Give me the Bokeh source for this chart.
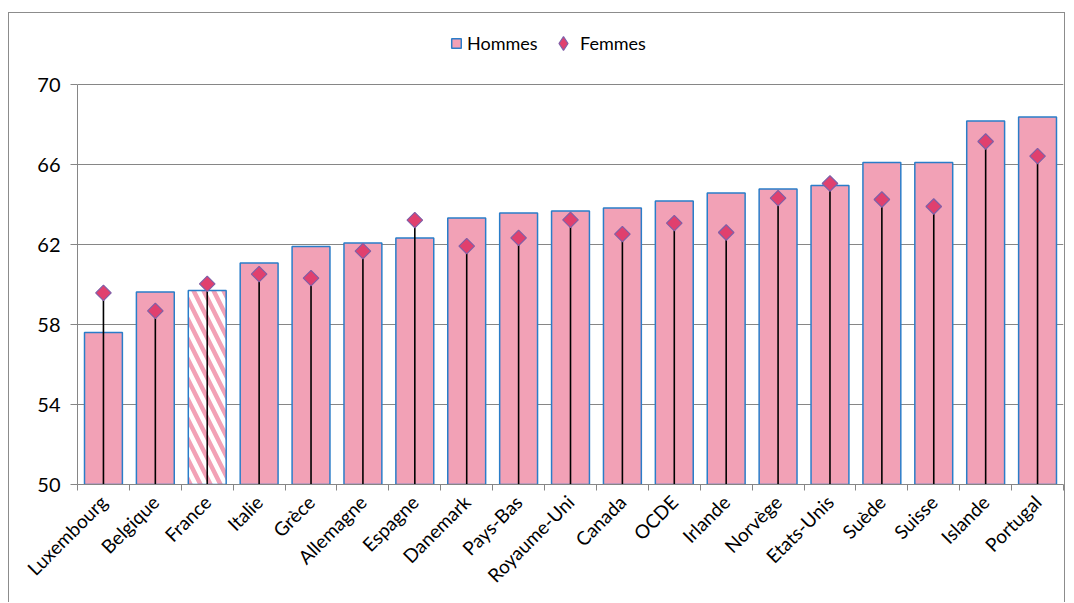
from math import pi
from bokeh.plotting import figure
from bokeh.models import ColumnDataSource, FixedTicker, Legend, LegendItem, Range1d
from bokeh.embed import file_html
from bokeh.resources import INLINE

countries = ["Luxembourg", "Belgique", "France", "Italie", "Grèce", "Allemagne", "Espagne",
             "Danemark", "Pays-Bas", "Royaume-Uni", "Canada", "OCDE", "Irlande", "Norvège",
             "Etats-Unis", "Suède", "Suisse", "Islande", "Portugal"]
hommes = [57.6, 59.62, 59.7, 61.07, 61.9, 62.07, 62.33, 63.33, 63.57, 63.67, 63.83, 64.18,
          64.57, 64.77, 64.95, 66.1, 66.1, 68.18, 68.37]
femmes = [59.58, 58.68, 60.03, 60.52, 60.32, 61.67, 63.22, 61.92, 62.33, 63.23, 62.52, 63.07,
          62.6, 64.32, 65.05, 64.25, 63.9, 67.15, 66.42]
yticks = [50, 54, 58, 62, 66, 70]
highlight = "France"

FONT = "Lato"
GREY = "#868686"
PINK = "#F2A1B6"
BLUE = "#2A7DC9"
DIAMOND_FILL = "#E0406E"
DIAMOND_LINE = "#7F5FA8"

xs = list(range(len(countries)))
normal = [i for i, c in enumerate(countries) if c != highlight]
hl = [i for i, c in enumerate(countries) if c == highlight]

src_norm = ColumnDataSource(dict(x=[xs[i] for i in normal], top=[hommes[i] for i in normal]))
src_hl = ColumnDataSource(dict(x=[xs[i] for i in hl], top=[hommes[i] for i in hl]))
src_f = ColumnDataSource(dict(x=xs, y=femmes))

# frame extends above the top tick to leave room for the legend (20 px per unit, 60 px extra)
y_top = yticks[-1] + 60 / 20.0

p = figure(width=1057, height=590, output_backend="svg", toolbar_location=None,
           x_range=Range1d(-0.5, len(countries) - 0.5), y_range=Range1d(yticks[0], y_top),
           min_border_left=68, min_border_right=3, min_border_top=11, min_border_bottom=119)
p.styles = {"margin-top": "12px", "margin-left": "8px", "border-top": "1px solid #8c8c8c",
            "border-left": "1px solid #8c8c8c", "border-right": "1px solid #8c8c8c"}
p.outline_line_color = None

bars = p.vbar(x="x", top="top", bottom=yticks[0], width=0.73, source=src_norm,
              fill_color=PINK, line_color=BLUE, line_width=1.5)
p.vbar(x="x", top="top", bottom=yticks[0], width=0.73, source=src_hl,
       fill_color="white", line_color=BLUE, line_width=1.5,
       hatch_pattern="\\", hatch_color=PINK, hatch_weight=4.5, hatch_scale=20)
p.segment(x0="x", y0=yticks[0], x1="x", y1="y", source=src_f, line_color="black", line_width=1.6)
pts = p.scatter(x="x", y="y", source=src_f, marker="square", angle=pi / 4, size=11,
                fill_color=DIAMOND_FILL, line_color=DIAMOND_LINE, line_width=1.2)
# hidden legend proxy: legend glyphs ignore marker angle, so use the diamond marker there
proxy = p.scatter(x="x", y="y", source=src_f, marker="diamond", fill_color=DIAMOND_FILL,
                  line_color=DIAMOND_LINE, line_width=1.2, visible=False)

# axes
p.xgrid.visible = False
p.ygrid.ticker = FixedTicker(ticks=yticks)
p.ygrid.grid_line_color = GREY
p.ygrid.grid_line_width = 1

yax = p.yaxis[0]
yax.ticker = FixedTicker(ticks=yticks, minor_ticks=[])
yax.bounds = (yticks[0], yticks[-1])
yax.axis_line_color = GREY
yax.major_tick_line_color = GREY
yax.major_tick_out = 7
yax.major_tick_in = 0
yax.minor_tick_out = 0
yax.major_label_standoff = 10
yax.major_label_text_font = FONT
yax.major_label_text_font_size = "20px"
yax.major_label_text_color = "black"

xax = p.xaxis[0]
xax.ticker = FixedTicker(ticks=xs, minor_ticks=[i - 0.5 for i in xs] + [len(xs) - 0.5])
xax.major_label_overrides = {i: c for i, c in enumerate(countries)}
xax.major_label_orientation = pi / 4
xax.axis_line_color = GREY
xax.major_tick_out = 0
xax.major_tick_in = 0
xax.minor_tick_line_color = GREY
xax.minor_tick_out = 6
xax.minor_tick_in = 0
xax.major_label_standoff = 8
xax.major_label_text_font = FONT
xax.major_label_text_font_size = "19px"
xax.major_label_text_color = "black"

common = dict(orientation="horizontal", label_text_font=FONT, label_text_font_size="18px",
              label_text_color="black", padding=2, margin=0, border_line_color=None,
              background_fill_alpha=0, inactive_fill_alpha=0)
legend_h = Legend(items=[LegendItem(label="Hommes", renderers=[bars])], location=(373, 430),
                  glyph_width=12, glyph_height=12, label_standoff=5, **common)
legend_f = Legend(items=[LegendItem(label="Femmes", renderers=[proxy])], location=(469, 424),
                  glyph_width=34, glyph_height=34, label_standoff=0, **common)
p.add_layout(legend_h, "center")
p.add_layout(legend_f, "center")

open("out.html", "w").write(file_html(p, INLINE))
